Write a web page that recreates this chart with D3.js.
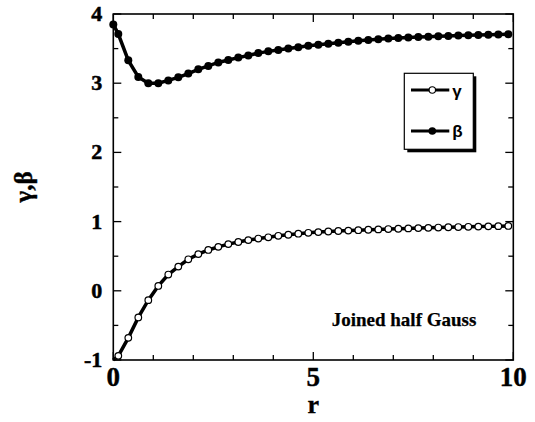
<!DOCTYPE html>
<meta charset="utf-8">
<script src="https://d3js.org/d3.v7.min.js"></script>
<style>
  body { margin: 0; background: #fff; }
</style>
<div id="my_dataviz"></div>
<script>
// r values (markers), with r=0 start point
var rValues = [0, 0.125, 0.375, 0.625, 0.875, 1.125, 1.375, 1.625, 1.875, 2.125, 2.375,
  2.625, 2.875, 3.125, 3.375, 3.625, 3.875, 4.125, 4.375, 4.625, 4.875,
  5.125, 5.375, 5.625, 5.875, 6.125, 6.375, 6.625, 6.875, 7.125, 7.375,
  7.625, 7.875, 8.125, 8.375, 8.625, 8.875, 9.125, 9.375, 9.625, 9.875];

var betaValues = [3.85, 3.71, 3.33, 3.09, 3.00, 3.00, 3.04, 3.085, 3.14, 3.20, 3.25,
  3.30, 3.335, 3.37, 3.40, 3.435, 3.46, 3.48, 3.50, 3.52, 3.54,
  3.555, 3.57, 3.585, 3.60, 3.615, 3.625, 3.635, 3.645, 3.653, 3.66,
  3.667, 3.673, 3.678, 3.683, 3.688, 3.692, 3.696, 3.70, 3.703, 3.706];

var gammaValues = [-1.0, -0.94, -0.68, -0.385, -0.135, 0.07, 0.235, 0.35, 0.455, 0.53, 0.59,
  0.635, 0.675, 0.705, 0.733, 0.755, 0.773, 0.795, 0.81, 0.825, 0.838,
  0.848, 0.857, 0.864, 0.87, 0.876, 0.882, 0.887, 0.892, 0.897, 0.902,
  0.906, 0.91, 0.914, 0.918, 0.921, 0.925, 0.928, 0.931, 0.934, 0.937];

var xTicks = [0, 5, 10];
var xMinor = [1, 2, 3, 4, 6, 7, 8, 9];
var yTicks = [-1, 0, 1, 2, 3, 4];
var yMinor = [-0.5, 0.5, 1.5, 2.5, 3.5];

var W = 535, H = 422;
var margin = {top: 14, right: 21.7, bottom: 62, left: 113.3},
    width = W - margin.left - margin.right,
    height = H - margin.top - margin.bottom;

var svg = d3.select("#my_dataviz")
  .append("svg")
    .attr("width", W)
    .attr("height", H)
  .append("g")
    .attr("transform", "translate(" + margin.left + "," + margin.top + ")");

var x = d3.scaleLinear().domain([0, 10]).range([0, width]);
var y = d3.scaleLinear().domain([-1, 4]).range([height, 0]);

var serif = "'Liberation Serif', 'Times New Roman', serif";
var sans = "'Liberation Sans', Arial, sans-serif";

// ticks, all inward, on four sides
function drawTicks(vals, len) {
  vals.forEach(function(v) {
    svg.append("line").attr("x1", x(v)).attr("x2", x(v)).attr("y1", height).attr("y2", height - len)
      .attr("stroke", "#000").attr("stroke-width", 1.3);
    svg.append("line").attr("x1", x(v)).attr("x2", x(v)).attr("y1", 0).attr("y2", len)
      .attr("stroke", "#000").attr("stroke-width", 1.3);
  });
}
drawTicks(xMinor, 5);
drawTicks(xTicks, 8);

function drawYTicks(vals, len) {
  vals.forEach(function(v) {
    svg.append("line").attr("x1", 0).attr("x2", len).attr("y1", y(v)).attr("y2", y(v))
      .attr("stroke", "#000").attr("stroke-width", 1.3);
    svg.append("line").attr("x1", width).attr("x2", width - len).attr("y1", y(v)).attr("y2", y(v))
      .attr("stroke", "#000").attr("stroke-width", 1.3);
  });
}
drawYTicks(yMinor, 5);
drawYTicks(yTicks, 8);

// frame
svg.append("rect")
  .attr("x", 0).attr("y", 0).attr("width", width).attr("height", height)
  .attr("fill", "none").attr("stroke", "#000").attr("stroke-width", 1.6);

// tick labels
svg.selectAll(".xlab").data(xTicks).enter().append("text")
  .attr("x", function(d) { return x(d); })
  .attr("y", height + 26)
  .attr("text-anchor", "middle")
  .attr("font-family", serif).attr("font-weight", "bold").attr("font-size", 27)
  .attr("stroke", "#000").attr("stroke-width", 0.4)
  .text(function(d) { return d; });

svg.selectAll(".ylab").data(yTicks).enter().append("text")
  .attr("x", -11)
  .attr("y", function(d) { return y(d) + 7; })
  .attr("text-anchor", "end")
  .attr("font-family", serif).attr("font-weight", "bold").attr("font-size", 22)
  .attr("stroke", "#000").attr("stroke-width", 0.5)
  .text(function(d) { return d; });

// axis titles
svg.append("text")
  .attr("x", width / 2).attr("y", height + 53)
  .attr("text-anchor", "middle")
  .attr("font-family", serif).attr("font-weight", "bold").attr("font-size", 26)
  .attr("stroke", "#000").attr("stroke-width", 0.4)
  .text("r");

svg.append("text")
  .attr("transform", "translate(" + (-81) + "," + (height / 2) + ")rotate(-90)")
  .attr("text-anchor", "middle")
  .attr("font-family", serif).attr("font-weight", "bold").attr("font-size", 25)
  .attr("stroke", "#000").attr("stroke-width", 0.4)
  .text("γ,β");

// series
var gammaData = rValues.map(function(r, i) { return {r: r, v: gammaValues[i]}; });
var betaData = rValues.map(function(r, i) { return {r: r, v: betaValues[i]}; });

var line = d3.line().x(function(d) { return x(d.r); }).y(function(d) { return y(d.v); });

svg.append("path").datum(betaData).attr("d", line)
  .attr("fill", "none").attr("stroke", "#000").attr("stroke-width", 3.5);
svg.append("path").datum(gammaData).attr("d", line)
  .attr("fill", "none").attr("stroke", "#000").attr("stroke-width", 3.5);

svg.selectAll(".bdot").data(betaData).enter().append("circle")
  .attr("cx", function(d) { return x(d.r); })
  .attr("cy", function(d) { return y(d.v); })
  .attr("r", 4).attr("fill", "#000");

svg.selectAll(".gdot").data(gammaData.slice(1)).enter().append("circle")
  .attr("cx", function(d) { return x(d.r); })
  .attr("cy", function(d) { return y(d.v); })
  .attr("r", 3.3).attr("fill", "#fff").attr("stroke", "#000").attr("stroke-width", 1.2);

// legend
var lg = svg.append("g").attr("transform", "translate(" + (404.3 - margin.left) + "," + (73.3 - margin.top) + ")");
lg.append("rect").attr("x", 3).attr("y", 3).attr("width", 69).attr("height", 76).attr("fill", "#000");
lg.append("rect").attr("x", 0).attr("y", 0).attr("width", 69).attr("height", 76)
  .attr("fill", "#fff").attr("stroke", "#000").attr("stroke-width", 1.2);
lg.append("line").attr("x1", 6.7).attr("x2", 45).attr("y1", 16.7).attr("y2", 16.7)
  .attr("stroke", "#000").attr("stroke-width", 3);
lg.append("circle").attr("cx", 28).attr("cy", 16.7).attr("r", 3.2)
  .attr("fill", "#fff").attr("stroke", "#000").attr("stroke-width", 1.1);
lg.append("text").attr("x", 48).attr("y", 24).attr("font-family", sans)
  .attr("font-weight", "bold").attr("font-size", 17).text("γ");
lg.append("line").attr("x1", 6.7).attr("x2", 45).attr("y1", 57.7).attr("y2", 57.7)
  .attr("stroke", "#000").attr("stroke-width", 3);
lg.append("circle").attr("cx", 28).attr("cy", 57.7).attr("r", 3.8).attr("fill", "#000");
lg.append("text").attr("x", 48).attr("y", 64).attr("font-family", sans)
  .attr("font-weight", "bold").attr("font-size", 17).text("β");

// annotation
svg.append("text")
  .attr("x", 331.7 - margin.left).attr("y", 326 - margin.top)
  .attr("font-family", serif).attr("font-weight", "bold").attr("font-size", 19)
  .attr("stroke", "#000").attr("stroke-width", 0.25)
  .text("Joined half Gauss");
</script>
